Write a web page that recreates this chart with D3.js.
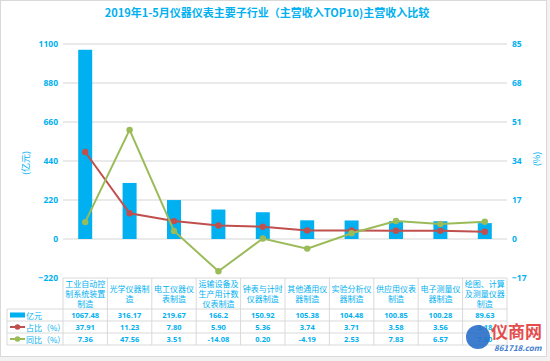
<!DOCTYPE html>
<html>
<head>
<meta charset="utf-8">
<script src="https://cdn.jsdelivr.net/npm/d3@7"></script>
<style>
  body { margin: 0; background: #fff; }
  svg { display: block; font-family: "Noto Sans CJK SC", "Noto Sans", sans-serif; }
</style>
</head>
<body>
<div id="chart"></div>
<script>
// data
const categories = ['工业自动控制系统装置制造', '光学仪器制造', '电工仪器仪表制造', '运输设备及生产用计数仪表制造',
	'钟表与计时仪器制造', '其他通用仪器制造', '实验分析仪器制造', '供应用仪表制造', '电子测量仪器制造', '绘图、计算及测量仪器制造']
const revenue = [1067.48, 316.17, 219.67, 166.2, 150.92, 105.38, 104.48, 100.85, 100.28, 89.63]
const share = [37.91, 11.23, 7.8, 5.9, 5.36, 3.74, 3.71, 3.58, 3.56, 3.18]
const growth = [7.36, 47.56, 3.51, -14.08, 0.2, -4.19, 2.53, 7.83, 6.57, 7.5]
const revenueText = ['1067.48', '316.17', '219.67', '166.2', '150.92', '105.38', '104.48', '100.85', '100.28', '89.63']
const shareText = ['37.91', '11.23', '7.80', '5.90', '5.36', '3.74', '3.71', '3.58', '3.56', '3.18']
const growthText = ['7.36', '47.56', '3.51', '-14.08', '0.20', '-4.19', '2.53', '7.83', '6.57', '7.50']
const leftTicks = [-220, 0, 220, 440, 660, 880, 1100]
const rightTicks = [-17, 0, 17, 34, 51, 68, 85]

const width = 550
const height = 361
const blue = '#00b0f0'
const red = '#c0504d'
const green = '#9bbb59'
const gridColor = '#e3e3e3'

const svg = d3.select('#chart').append('svg').attr('width', width).attr('height', height)

// chart frame
svg.append('rect').attr('width', width).attr('height', height).attr('fill', '#f2f2f2')
svg.append('rect').attr('x', 0.5).attr('y', 0.5).attr('width', 546).attr('height', 356)
	.attr('fill', '#fff').attr('stroke', '#d9d9d9')

svg.append('text')
	.attr('x', 267).attr('y', 17)
	.attr('text-anchor', 'middle')
	.attr('fill', blue).attr('font-size', 11).attr('font-weight', 'bold')
	.text('2019年1-5月仪器仪表主要子行业（主营收入TOP10)主营收入比较')

const x = d3.scaleBand().domain(d3.range(categories.length)).range([63, 507])
const yL = d3.scaleLinear().domain([-220, 1100]).range([278, 44])
const yR = d3.scaleLinear().domain([-17, 85]).range([278, 44])

// grid
svg.append('g').selectAll('line').data(leftTicks.filter(d => d > -220)).join('line')
	.attr('x1', 63).attr('x2', 507)
	.attr('y1', d => yL(d)).attr('y2', d => yL(d))
	.attr('stroke', gridColor).attr('stroke-width', 1.3)

// axes
const axL = svg.append('g').attr('transform', 'translate(58,0)')
	.call(d3.axisLeft(yL).tickValues(leftTicks).tickFormat(d3.format('d')).tickSize(0).tickPadding(0))
const axR = svg.append('g').attr('transform', 'translate(512,0)')
	.call(d3.axisRight(yR).tickValues(rightTicks).tickFormat(d3.format('d')).tickSize(0).tickPadding(0))
;[axL, axR].forEach(ax => {
	ax.select('.domain').remove()
	ax.selectAll('text').attr('fill', blue).attr('font-size', 8.5).attr('font-weight', 'bold')
		.attr('font-family', '"Open Sans", sans-serif')
})

svg.append('text')
	.attr('transform', 'translate(25,163) rotate(-90)')
	.attr('text-anchor', 'middle').attr('dominant-baseline', 'central')
	.attr('fill', blue).attr('font-size', 9).text('(亿元)')
svg.append('text')
	.attr('transform', 'translate(536,159) rotate(-90)')
	.attr('text-anchor', 'middle').attr('dominant-baseline', 'central')
	.attr('fill', blue).attr('font-size', 9).text('(%)')

// bars
const barW = 14
svg.append('g').selectAll('rect').data(revenue).join('rect')
	.attr('x', (d, i) => x(i) + x.bandwidth() / 2 - barW / 2)
	.attr('y', d => yL(d))
	.attr('width', barW)
	.attr('height', d => yL(0) - yL(d))
	.attr('fill', blue)

// lines
const drawLine = (values, color) => {
	const line = d3.line().x((d, i) => x(i) + x.bandwidth() / 2).y(d => yR(d))
	svg.append('path').datum(values).attr('d', line)
		.attr('fill', 'none').attr('stroke', color).attr('stroke-width', 2)
	svg.append('g').selectAll('circle').data(values).join('circle')
		.attr('cx', (d, i) => x(i) + x.bandwidth() / 2)
		.attr('cy', d => yR(d))
		.attr('r', 3.2).attr('fill', color)
}
drawLine(share, red)
drawLine(growth, green)

// data table
const table = svg.append('g')
const tTop = 278, hBottom = 309
const rowY = [309, 321, 333, 345]
const tLeft = 7
const lineColor = '#d9d9d9'

// vertical lines
x.domain().forEach(i => {
	table.append('line').attr('x1', x(i)).attr('x2', x(i)).attr('y1', tTop).attr('y2', 345)
		.attr('stroke', lineColor)
})
table.append('line').attr('x1', 507).attr('x2', 507).attr('y1', tTop).attr('y2', 345).attr('stroke', lineColor)
table.append('line').attr('x1', tLeft).attr('x2', tLeft).attr('y1', 309).attr('y2', 345).attr('stroke', lineColor)
// horizontal lines
table.append('line').attr('x1', 63).attr('x2', 507).attr('y1', tTop).attr('y2', tTop).attr('stroke', lineColor)
rowY.forEach(y => {
	table.append('line').attr('x1', tLeft).attr('x2', 507).attr('y1', y).attr('y2', y).attr('stroke', lineColor)
})

// header cells
categories.forEach((c, i) => {
	const lines = []
	for (let k = 0; k < c.length; k += 5) lines.push(c.slice(k, k + 5))
	const lh = 10
	const y0 = (tTop + hBottom) / 2 - (lines.length - 1) * lh / 2
	const t = table.append('text').attr('text-anchor', 'middle').attr('fill', blue).attr('font-size', 8)
	lines.forEach((l, j) => {
		t.append('tspan').attr('x', x(i) + x.bandwidth() / 2).attr('y', y0 + j * lh)
			.attr('dominant-baseline', 'central').text(l)
	})
})

// value rows
const rows = [revenueText, shareText, growthText]
rows.forEach((vals, r) => {
	const cy = (rowY[r] + rowY[r + 1]) / 2
	table.append('g').selectAll('text').data(vals).join('text')
		.attr('x', (d, i) => x(i) + x.bandwidth() / 2)
		.attr('y', cy)
		.attr('text-anchor', 'middle').attr('dominant-baseline', 'central')
		.attr('fill', blue).attr('font-size', 7.5).attr('font-weight', 'bold')
		.attr('font-family', '"Open Sans", sans-serif')
		.text(d => d)
})

// legend keys
const legendNames = ['亿元', '占比（%）', '同比（%）']
legendNames.forEach((name, r) => {
	const cy = (rowY[r] + rowY[r + 1]) / 2
	if (r === 0) {
		table.append('rect').attr('x', 10).attr('y', cy - 2.5).attr('width', 15).attr('height', 5).attr('fill', blue)
	} else {
		const col = r === 1 ? red : green
		table.append('line').attr('x1', 10).attr('x2', 25).attr('y1', cy).attr('y2', cy)
			.attr('stroke', col).attr('stroke-width', 2)
		table.append('circle').attr('cx', 17.5).attr('cy', cy).attr('r', 2.8).attr('fill', col)
	}
	table.append('text').attr('x', 26).attr('y', cy).attr('dominant-baseline', 'central')
		.attr('fill', blue).attr('font-size', 8).text(name)
})

// watermark
const wm = svg.append('g').attr('opacity', 0.9)
wm.append('circle').attr('cx', 478).attr('cy', 337).attr('r', 12).attr('fill', '#2a6fc9')
wm.append('text').attr('x', 491).attr('y', 338).attr('fill', '#e03a3a')
	.attr('font-size', 17).attr('font-weight', 'bold').text('仪商网')
wm.append('text').attr('x', 494).attr('y', 351).attr('fill', '#2a6fc9')
	.attr('font-size', 8).attr('font-style', 'italic').attr('font-weight', 'bold').text('861718.com')
</script>
</body>
</html>
